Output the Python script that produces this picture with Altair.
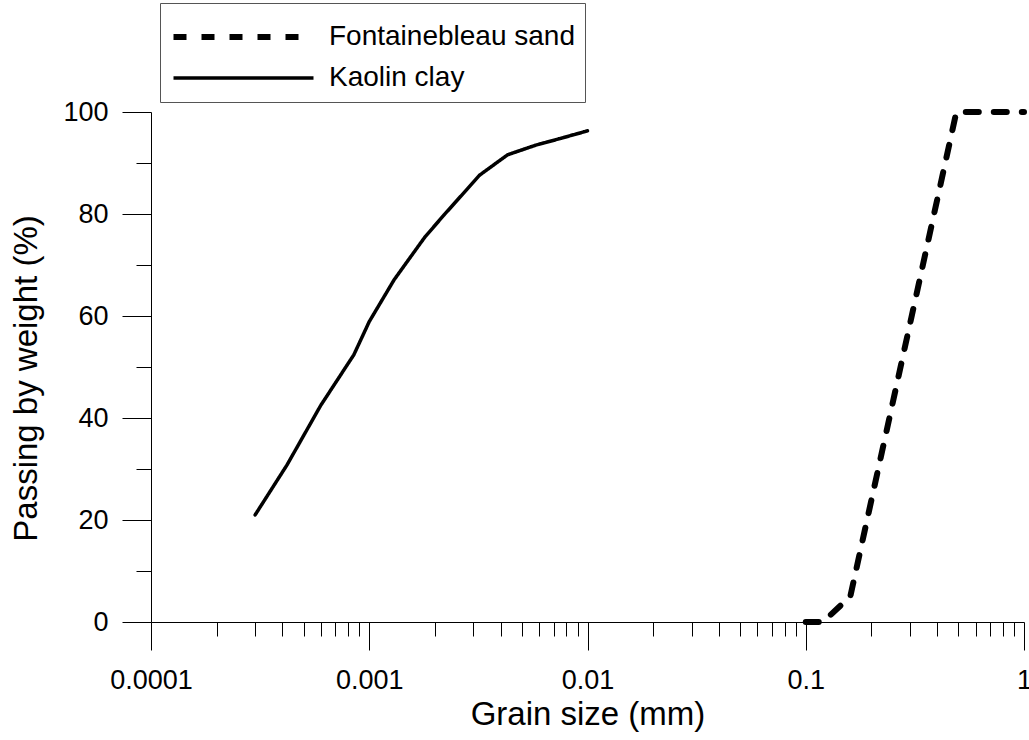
import altair as alt
import pandas as pd

# Kaolin clay grading curve
clay_size = [0.0003, 0.00042, 0.0006, 0.00085, 0.001, 0.0013, 0.0018, 0.0022,
             0.0032, 0.0043, 0.0058, 0.0075, 0.01]
clay_pass = [21.0, 30.8, 42.5, 52.4, 58.9, 67.1, 75.5, 79.8,
             87.6, 91.6, 93.5, 94.8, 96.3]

# Fontainebleau sand grading curve
sand_size = [0.1, 0.12, 0.16, 0.49, 1.0]
sand_pass = [0.0, 0.0, 5.0, 100.0, 100.0]

series_names = ["Fontainebleau sand", "Kaolin clay"]

x_major = [0.0001, 0.001, 0.01, 0.1, 1.0]
x_minor = [0.0002, 0.0003, 0.0004, 0.0005, 0.0006, 0.0007, 0.0008, 0.0009,
           0.002, 0.003, 0.004, 0.005, 0.006, 0.007, 0.008, 0.009,
           0.02, 0.03, 0.04, 0.05, 0.06, 0.07, 0.08, 0.09,
           0.2, 0.3, 0.4, 0.5, 0.6, 0.7, 0.8, 0.9]
y_ticks = [0, 10, 20, 30, 40, 50, 60, 70, 80, 90, 100]

rows = []
for i, (s, p) in enumerate(zip(sand_size, sand_pass)):
    rows.append({"size": s, "pct": p, "material": series_names[0], "order": i})
for i, (s, p) in enumerate(zip(clay_size, clay_pass)):
    rows.append({"size": s, "pct": p, "material": series_names[1], "order": i})
df = pd.DataFrame(rows)

FONT = "Liberation Sans"
major_test = "abs(log(datum.value)/LN10 - round(log(datum.value)/LN10)) < 1e-6"

x_axis = alt.Axis(
    values=sorted(x_major + x_minor),
    format="~g",
    labelExpr=f"({major_test}) ? datum.label : ''",
    tickSize={"condition": {"test": major_test, "value": 28}, "value": 14},
    labelPadding=17,
    labelOverlap=False,
    labelFlush=False,
    title="Grain size (mm)",
    titlePadding=5,
    grid=False,
)

y_axis = alt.Axis(
    values=y_ticks,
    labelExpr="datum.value % 20 == 0 ? datum.label : ''",
    tickSize={"condition": {"test": "datum.value % 20 == 0", "value": 29}, "value": 15},
    labelPadding=14,
    labelOverlap=False,
    labelFlush=False,
    title="Passing by weight (%)",
    titlePadding=19,
    titleY=266,
    grid=False,
)

legend = alt.Legend(
    title=" ",
    titleFontSize=1,
    titlePadding=9,
    orient="none",
    legendX=9,
    legendY=-109,
    padding=10,
    strokeColor="#555555",
    fillColor="white",
    symbolType="M-1.5,0H18.5",
    symbolSize=196,
    symbolStrokeColor="black",
    labelFontSize=28,
    labelFont=FONT,
    labelColor="black",
    labelOffset=131,
    labelLimit=400,
    rowPadding=13,
)

chart = (
    alt.Chart(df)
    .mark_line(color="black", strokeCap="round", strokeJoin="round")
    .encode(
        x=alt.X("size:Q", scale=alt.Scale(type="log", domain=[0.0001, 1]), axis=x_axis),
        y=alt.Y("pct:Q", scale=alt.Scale(domain=[0, 100]), axis=y_axis),
        strokeDash=alt.StrokeDash(
            "material:N",
            scale=alt.Scale(domain=series_names, range=[[13, 15], [1, 0]]),
            legend=legend,
        ),
        strokeWidth=alt.StrokeWidth(
            "material:N",
            scale=alt.Scale(type="ordinal", domain=series_names, range=[6, 3.5]),
            legend=legend,
        ),
        order="order:Q",
    )
    .properties(
        width=873,
        height=510,
        background="white",
        autosize=alt.AutoSizeParams(type="none"),
        padding={"left": 151, "top": 112, "right": 5, "bottom": 118},
    )
    .configure_view(stroke=None)
    .configure_axis(
        domainColor="black",
        domainWidth=1,
        tickColor="black",
        tickWidth=1,
        labelFont=FONT,
        labelFontSize=27,
        labelColor="black",
        titleFont=FONT,
        titleFontSize=33,
        titleFontWeight="normal",
        titleColor="black",
    )
)

chart.save("out.html", embed_options={"renderer": "svg", "actions": False})
